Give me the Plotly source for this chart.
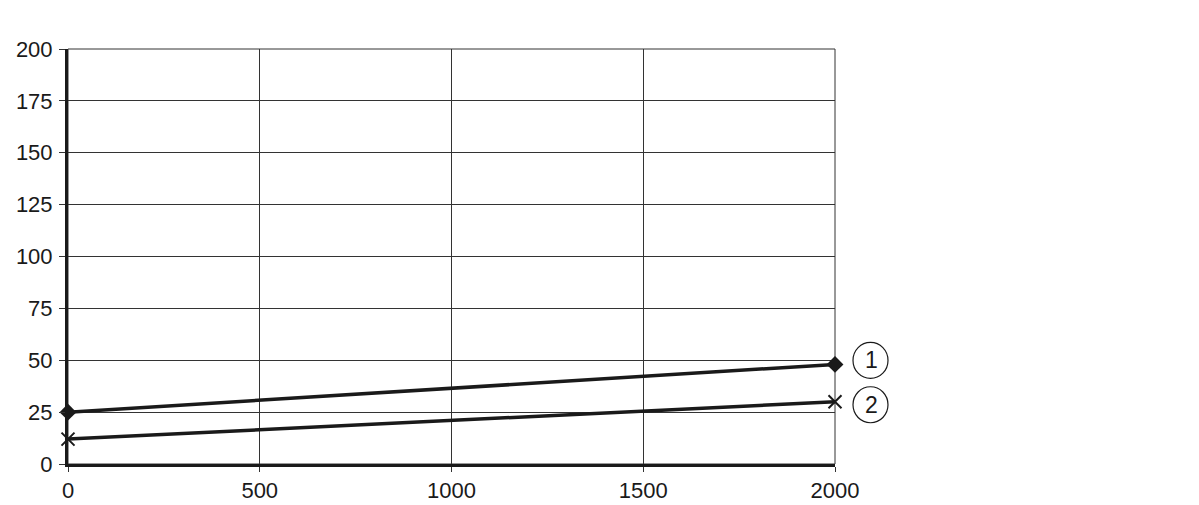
import plotly.graph_objects as go

x_vals = [0, 2000]
series1 = [25, 48]
series2 = [12, 30]
labels = ["1", "2"]
x_ticks = [0, 500, 1000, 1500, 2000]
y_ticks = [0, 25, 50, 75, 100, 125, 150, 175, 200]

fig = go.Figure()
fig.add_trace(go.Scatter(x=x_vals, y=series1, mode="lines+markers",
                         line=dict(color="#1a1a1a", width=3.5),
                         marker=dict(symbol="diamond", size=13, color="#1a1a1a"),
                         cliponaxis=False, showlegend=False))
fig.add_trace(go.Scatter(x=x_vals, y=series2, mode="lines+markers",
                         line=dict(color="#1a1a1a", width=3.5),
                         marker=dict(symbol="x-thin", size=13, line=dict(color="#1a1a1a", width=2)),
                         cliponaxis=False, showlegend=False))

for ys, lab, dy in [(series1, labels[0], 4), (series2, labels[1], -3)]:
    fig.add_shape(type="circle", xref="paper", yref="y", xsizemode="pixel", ysizemode="pixel",
                  xanchor=1, yanchor=ys[-1], x0=18, x1=53, y0=-18 + dy, y1=18 + dy,
                  line=dict(color="#1a1a1a", width=1.2))
    fig.add_annotation(x=x_vals[-1], y=ys[-1], text=lab, showarrow=False,
                       xshift=36, yshift=dy, font=dict(size=23, color="#1a1a1a",
                                                       family="Liberation Sans, Arial"))

fig.update_layout(
    width=1199, height=505,
    margin=dict(l=68, r=364, t=49, b=41, autoexpand=False),
    plot_bgcolor="white", paper_bgcolor="white",
    font=dict(family="Liberation Sans, Arial", size=22, color="#1a1a1a"),
)
fig.update_xaxes(range=[0, 2000], tickvals=x_ticks, showgrid=True, gridcolor="#333333", gridwidth=1,
                 zeroline=False, showline=True, linecolor="#1a1a1a", linewidth=3, automargin=False,
                 ticks="outside", ticklen=5, tickcolor="#333333", mirror=False)
fig.update_yaxes(range=[0, 200], tickvals=y_ticks, showgrid=True, gridcolor="#333333", gridwidth=1,
                 zeroline=False, showline=True, linecolor="#1a1a1a", linewidth=3, automargin=False,
                 ticks="outside", ticklen=6, tickcolor="#333333", mirror=False,
                 ticklabelstandoff=2)
# thin top/right border
fig.add_shape(type="rect", xref="paper", yref="paper", x0=0, x1=1, y0=0, y1=1,
              line=dict(color="#333333", width=1), layer="below")

fig.write_html("out.html")
